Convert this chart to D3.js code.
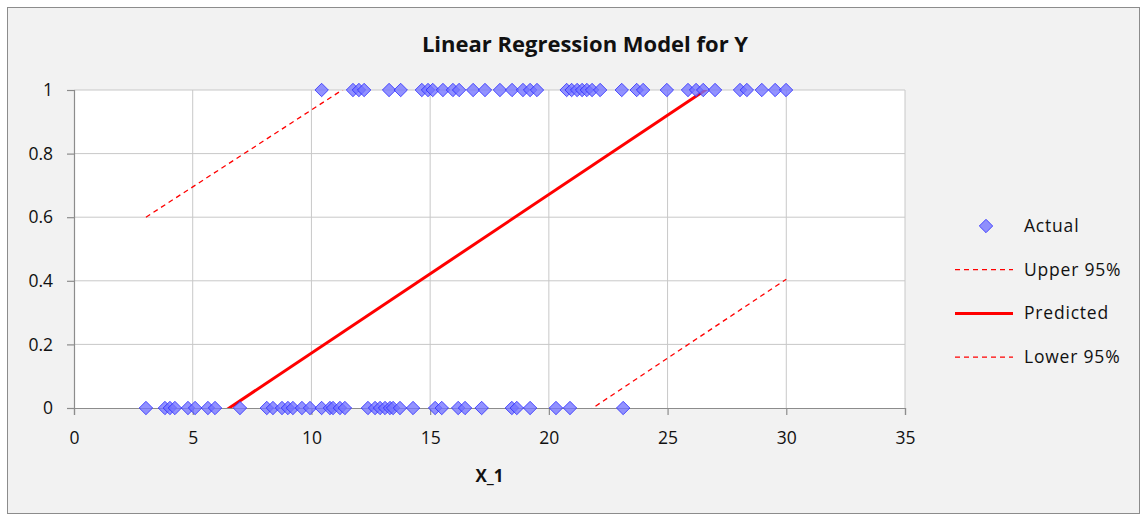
<!DOCTYPE html>
<html>
<head>
<meta charset="utf-8">
<script src="https://cdn.jsdelivr.net/npm/d3@7"></script>
<style>
  html, body { margin: 0; padding: 0; background: #fff; }
  svg { display: block; font-family: 'Open Sans', sans-serif; }
</style>
</head>
<body>
<svg id="chart" width="1142" height="515"></svg>
<script>
// observations with Y = 1 and Y = 0
const actualX1 = [10.43, 11.75, 12.0, 12.22, 13.27, 13.76, 14.65, 14.91, 15.11, 15.54, 15.96, 16.22,
  16.81, 17.31, 17.94, 18.45, 18.91, 19.21, 19.5, 20.75, 20.96, 21.19, 21.4, 21.6, 21.82, 22.16,
  23.07, 23.7, 23.97, 24.97, 25.86, 26.2, 26.5, 27.0, 28.05, 28.34, 28.97, 29.53, 29.99];
const actualX0 = [3.03, 3.83, 4.04, 4.25, 4.8, 5.1, 5.64, 5.94, 6.99, 8.12, 8.38, 8.76, 9.01, 9.22,
  9.6, 9.94, 10.43, 10.78, 10.91, 11.2, 11.41, 12.38, 12.68, 12.89, 13.1, 13.31, 13.44, 13.73,
  14.28, 15.21, 15.49, 16.18, 16.47, 17.17, 18.44, 18.65, 19.21, 20.3, 20.89, 23.13];

// fitted lines (end points)
const fitX = [3.03, 30];
const predictedY = [-0.175, 1.17];
const upperY = [0.6, 1.905];
const lowerY = [-0.935, 0.405];

const xTicks = [0, 5, 10, 15, 20, 25, 30, 35];
const yTicks = [0, 0.2, 0.4, 0.6, 0.8, 1];
const legendLabels = ['Actual', 'Upper 95%', 'Predicted', 'Lower 95%'];

const svg = d3.select('#chart');
const margin = { top: 90, right: 237, bottom: 107, left: 74 };
const width = +svg.attr('width') - margin.left - margin.right;
const height = +svg.attr('height') - margin.top - margin.bottom;

const blueFill = 'rgba(115,115,255,0.78)';
const blueStroke = 'rgba(35,35,255,0.75)';

// chart area
svg.append('rect')
  .attr('x', 7.5).attr('y', 7.5)
  .attr('width', 1132).attr('height', 506)
  .attr('fill', '#f2f2f2')
  .attr('stroke', '#8c8c8c');

svg.append('text')
  .attr('x', 585).attr('y', 52)
  .attr('text-anchor', 'middle')
  .style('font-size', '22px')
  .style('font-weight', 'bold')
  .attr('fill', '#111')
  .text('Linear Regression Model for Y');

const plot = svg.append('g')
  .attr('transform', `translate(${[margin.left, margin.top]})`);

const x = d3.scaleLinear().domain([0, 35]).range([0, width]);
const y = d3.scaleLinear().domain([0, 1]).range([height, 0]);

plot.append('rect')
  .attr('width', width).attr('height', height)
  .attr('fill', '#fff');

// gridlines
plot.append('g')
  .selectAll('line')
  .data(xTicks.slice(1))
  .enter()
  .append('line')
  .attr('x1', d => x(d)).attr('x2', d => x(d))
  .attr('y1', 0).attr('y2', height)
  .attr('stroke', '#c8c8c8');
plot.append('g')
  .selectAll('line')
  .data(yTicks.slice(1))
  .enter()
  .append('line')
  .attr('x1', 0).attr('x2', width)
  .attr('y1', d => y(d)).attr('y2', d => y(d))
  .attr('stroke', '#c8c8c8');

// axes
const xAxis = plot.append('g')
  .attr('transform', `translate(0,${height})`)
  .call(d3.axisBottom(x).tickValues(xTicks).tickSize(7).tickPadding(17).tickFormat(d3.format('d')));
const yAxis = plot.append('g')
  .call(d3.axisLeft(y).tickValues(yTicks).tickSize(7).tickPadding(14).tickFormat(d => (d === 0 || d === 1 ? d : d3.format('.1f')(d))));
[xAxis, yAxis].forEach((ax) => {
  ax.select('.domain').attr('stroke', '#8c8c8c').attr('stroke-width', 1.2);
  ax.selectAll('.tick line').attr('stroke', '#8c8c8c').attr('stroke-width', 1.2);
  ax.selectAll('.tick text')
    .attr('fill', '#111')
    .style('font-size', '17.5px')
    .style('font-family', "'Open Sans', sans-serif");
});

svg.append('text')
  .attr('x', margin.left + width / 2).attr('y', 482)
  .attr('text-anchor', 'middle')
  .style('font-size', '17px')
  .style('font-weight', 'bold')
  .attr('fill', '#111')
  .text('X_1');

// clip lines to plot area
svg.append('defs').append('clipPath').attr('id', 'clip')
  .append('rect').attr('width', width).attr('height', height);

const line = d3.line().x(d => x(d[0])).y(d => y(d[1]));
const lineData = [
  { ys: upperY, dash: '5,4', w: 1.3 },
  { ys: predictedY, dash: null, w: 3 },
  { ys: lowerY, dash: '5,4', w: 1.3 },
];
const lines = plot.append('g').attr('clip-path', 'url(#clip)');
lineData.forEach((l) => {
  lines.append('path')
    .attr('d', line(fitX.map((v, i) => [v, l.ys[i]])))
    .attr('fill', 'none')
    .attr('stroke', '#ff0000')
    .attr('stroke-width', l.w)
    .attr('stroke-dasharray', l.dash);
});

// markers
const diamond = d3.symbol().type(d3.symbolDiamond2).size(115);
const points = actualX1.map(v => [v, 1]).concat(actualX0.map(v => [v, 0]));
plot.append('g')
  .selectAll('path')
  .data(points)
  .enter()
  .append('path')
  .attr('d', diamond)
  .attr('transform', d => `translate(${x(d[0])},${y(d[1])})`)
  .attr('fill', blueFill)
  .attr('stroke', blueStroke)
  .attr('stroke-width', 1);

// legend
const legend = svg.append('g').attr('transform', 'translate(955,226)');
const rowStep = 43.7;
legendLabels.forEach((label, i) => {
  const row = legend.append('g').attr('transform', `translate(0,${i * rowStep})`);
  if (i === 0) {
    row.append('path')
      .attr('d', diamond)
      .attr('transform', 'translate(31,0)')
      .attr('fill', blueFill)
      .attr('stroke', blueStroke);
  } else {
    row.append('line')
      .attr('x1', 0).attr('x2', 58)
      .attr('stroke', '#ff0000')
      .attr('stroke-width', lineData[i - 1].w)
      .attr('stroke-dasharray', lineData[i - 1].dash);
  }
  row.append('text')
    .attr('x', 69).attr('y', 6)
    .style('font-size', '17.5px')
    .style('letter-spacing', '0.8px')
    .attr('fill', '#111')
    .text(label);
});
</script>
</body>
</html>
